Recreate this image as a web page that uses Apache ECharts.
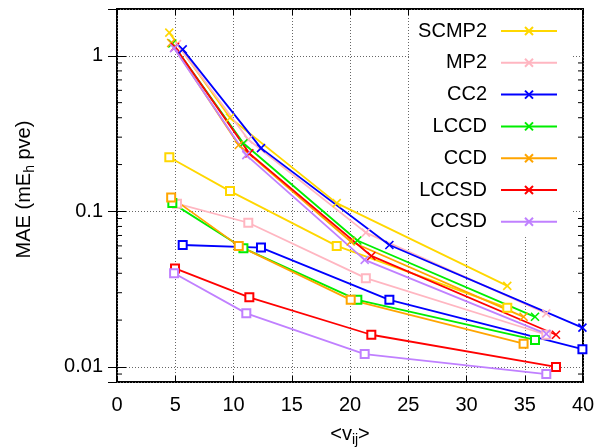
<!DOCTYPE html>
<html>
<head>
<meta charset="utf-8">
<script src="https://cdn.jsdelivr.net/npm/echarts@6/dist/echarts.min.js"></script>
<style>
  html, body { margin: 0; padding: 0; background: #fff; }
  #chart { width: 598px; height: 447px; }
</style>
</head>
<body>
<div id="chart"></div>
<script>
// MAE vs <v_ij>: x-markers = upper set, open squares = lower set
const methods = ['SCMP2', 'MP2', 'CC2', 'LCCD', 'CCD', 'LCCSD', 'CCSD'];
const colors = ['#ffd700', '#ffb6c1', '#0000ff', '#00ee00', '#ffa500', '#ff0000', '#c080ff'];

// <v_ij> per method
const scmp2V = [4.49, 9.70, 18.86, 33.5];
const mp2V   = [5.15, 11.27, 21.36, 36.85];
const cc2V   = [5.64, 12.36, 23.38, 39.95];
const lccdV  = [4.75, 10.85, 20.63, 35.88];
const ccdV   = [4.65, 10.45, 20.06, 34.9];
const lccsdV = [4.98, 11.36, 21.83, 37.68];
const ccsdV  = [4.9, 11.1, 21.26, 36.85];

// MAE, x-marker curves
const scmp2Upper = [1.41, 0.40, 0.113, 0.0332];
const mp2Upper   = [1.19, 0.29, 0.073, 0.0221];
const cc2Upper   = [1.10, 0.255, 0.0608, 0.0179];
const lccdUpper  = [1.20, 0.274, 0.065, 0.021];
const ccdUpper   = [1.21, 0.267, 0.064, 0.021];
const lccsdUpper = [1.14, 0.236, 0.0517, 0.0161];
const ccsdUpper  = [1.12, 0.23, 0.0488, 0.0163];

// MAE, square-marker curves
const scmp2Lower = [0.223, 0.135, 0.060, 0.024];
const mp2Lower   = [0.112, 0.0845, 0.0372, 0.0161];
const cc2Lower   = [0.0608, 0.0585, 0.027, 0.0130];
const lccdLower  = [0.113, 0.058, 0.027, 0.0149];
const ccdLower   = [0.123, 0.060, 0.027, 0.0141];
const lccsdLower = [0.043, 0.028, 0.0161, 0.0100];
const ccsdLower  = [0.040, 0.0221, 0.0121, 0.0090];

// minor ticks on the log axis
const minorTicks = [0.009, 0.02, 0.03, 0.04, 0.05, 0.06, 0.07, 0.08, 0.09,
  0.2, 0.3, 0.4, 0.5, 0.6, 0.7, 0.8, 0.9];

const vs = [scmp2V, mp2V, cc2V, lccdV, ccdV, lccsdV, ccsdV];
const uppers = [scmp2Upper, mp2Upper, cc2Upper, lccdUpper, ccdUpper, lccsdUpper, ccsdUpper];
const lowers = [scmp2Lower, mp2Lower, cc2Lower, lccdLower, ccdLower, lccsdLower, ccsdLower];

const FONT = 'Liberation Sans';
const CROSS = 'path://M0,0L10,10M10,0L0,10';

const zip = (xs, ys) => xs.map((x, i) => [x, ys[i]]);

const series = [];
methods.forEach((name, i) => {
  const c = colors[i];
  series.push({
    name, type: 'line', data: zip(vs[i], uppers[i]),
    symbol: CROSS, symbolSize: 8,
    lineStyle: { color: c, width: 1.8 },
    itemStyle: { color: c, borderColor: c, borderWidth: 1.6 },
    emphasis: { disabled: true }
  });
  series.push({
    name, type: 'line', data: zip(vs[i], lowers[i]),
    symbol: 'emptyRect', symbolSize: 8,
    lineStyle: { color: c, width: 1.8 },
    itemStyle: { color: c, borderColor: c, borderWidth: 1.6 },
    emphasis: { disabled: true }
  });
});

// minor ticks drawn on left/right frame through the axis scale
series.push({
  type: 'custom', silent: true, z: 5,
  data: minorTicks.map(v => [0, v]),
  renderItem: (params, api) => {
    const l = api.coord([0, api.value(1)]);
    const r = api.coord([40, api.value(1)]);
    return {
      type: 'group',
      children: [
        { type: 'line', shape: { x1: l[0], y1: l[1], x2: l[0] + 5, y2: l[1] }, style: { stroke: '#000', lineWidth: 1 } },
        { type: 'line', shape: { x1: r[0] - 5, y1: r[1], x2: r[0], y2: r[1] }, style: { stroke: '#000', lineWidth: 1 } }
      ]
    };
  }
});

const gridLine = { show: true, lineStyle: { color: '#666', type: [1, 2], width: 1 } };
const labelStyle = { color: '#000', fontSize: 20, fontFamily: FONT };

const option = {
  animation: false,
  backgroundColor: '#fff',
  grid: {
    left: 117, right: 15, top: 9, bottom: 65,
    containLabel: false, outerBoundsMode: 'none',
    show: true, borderColor: '#000', borderWidth: 2
  },
  legend: {
    data: methods,
    orient: 'vertical',
    right: 26, top: 10,
    align: 'right',
    itemWidth: 56, itemHeight: 10, itemGap: 11.8,
    padding: [11, 14, 4, 8],
    backgroundColor: '#fff',
    textStyle: { color: '#000', fontSize: 20, fontFamily: FONT, padding: [0, 9, 0, 0] },
    selectedMode: false
  },
  xAxis: [{
    type: 'value', min: 0, max: 40, interval: 5,
    name: '<v{sub|ij}>', nameLocation: 'middle', nameGap: 39,
    nameTextStyle: {
      color: '#000', fontSize: 20, fontFamily: FONT, verticalAlign: 'top', lineHeight: 22,
      rich: { sub: { fontSize: 14, fontFamily: FONT, color: '#000', verticalAlign: 'bottom', lineHeight: 26 } }
    },
    axisLine: { show: false },
    axisTick: { inside: true, length: 6, lineStyle: { color: '#000' } },
    axisLabel: { ...labelStyle, margin: 13 },
    splitLine: gridLine
  }, {
    type: 'value', min: 0, max: 40, interval: 5, position: 'top',
    axisLine: { show: false },
    axisTick: { inside: true, length: 6, lineStyle: { color: '#000' } },
    axisLabel: { show: false },
    splitLine: { show: false }
  }],
  yAxis: [{
    type: 'log', logBase: 10, min: 0.008, max: 2,
    name: 'MAE (mE{sub|h} pve)', nameLocation: 'middle', nameGap: 80, nameRotate: 90,
    nameTextStyle: {
      color: '#000', fontSize: 20, fontFamily: FONT, lineHeight: 22, padding: [0, 0, 0, 12],
      rich: { sub: { fontSize: 14, fontFamily: FONT, color: '#000', verticalAlign: 'bottom', lineHeight: 26 } }
    },
    axisLine: { show: false },
    axisTick: { inside: true, length: 9, lineStyle: { color: '#000' } },
    axisLabel: { ...labelStyle, margin: 14, showMinLabel: false, showMaxLabel: false },
    splitLine: gridLine
  }, {
    type: 'log', logBase: 10, min: 0.008, max: 2, position: 'right',
    axisLine: { show: false },
    axisTick: { inside: true, length: 9, lineStyle: { color: '#000' } },
    axisLabel: { show: false },
    splitLine: { show: false }
  }],
  series
};

const chart = echarts.init(document.getElementById('chart'), null, { renderer: 'canvas' });
chart.setOption(option);
</script>
</body>
</html>
